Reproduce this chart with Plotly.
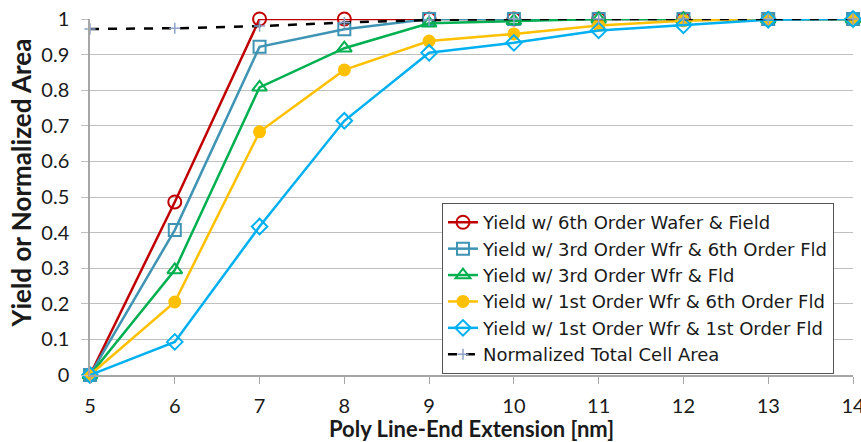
import plotly.graph_objects as go

x_nm = [5, 6, 7, 8, 9, 10, 11, 12, 13, 14]
yield_6th_wafer_field = [0, 0.486, 1.0, 1.0, 1.0, 1.0, 1.0, 1.0, 1.0, 1.0]
yield_3rd_wfr_6th_fld = [0, 0.407, 0.922, 0.971, 1.0, 1.0, 1.0, 1.0, 1.0, 1.0]
yield_3rd_wfr_fld = [0, 0.295, 0.808, 0.918, 0.988, 0.995, 1.0, 1.0, 1.0, 1.0]
yield_1st_wfr_6th_fld = [0, 0.205, 0.683, 0.857, 0.938, 0.958, 0.982, 0.995, 1.0, 1.0]
yield_1st_wfr_1st_fld = [0, 0.093, 0.417, 0.714, 0.905, 0.933, 0.968, 0.982, 0.998, 1.0]
norm_cell_area = [0.972, 0.974, 0.980, 0.990, 0.997, 1.0, 1.0, 1.0, 1.0, 1.0]

series_names = [
    "Yield w/ 6th Order Wafer & Field",
    "Yield w/ 3rd Order Wfr & 6th Order Fld",
    "Yield w/ 3rd Order Wfr & Fld",
    "Yield w/ 1st Order Wfr & 6th Order Fld",
    "Yield w/ 1st Order Wfr & 1st Order Fld",
    "Normalized Total Cell Area",
]
x_ticks = [5, 6, 7, 8, 9, 10, 11, 12, 13, 14]
y_ticks = [0, 0.1, 0.2, 0.3, 0.4, 0.5, 0.6, 0.7, 0.8, 0.9, 1]
y_tick_labels = ["0", "0.1", "0.2", "0.3", "0.4", "0.5", "0.6", "0.7", "0.8", "0.9", "1"]
x_title = "Poly Line-End Extension [nm]"
y_title = "Yield or Normalized Area"

FONT = "Lato"
LEG_FONT = "DejaVu Sans"
TXT = "#1a1a1a"
fig = go.Figure()

styles = [
    (yield_6th_wafer_field, "#C00000", "circle-open", 13),
    (yield_3rd_wfr_6th_fld, "#3F94B4", "square-open", 12),
    (yield_3rd_wfr_fld, "#00B050", "triangle-up-open", 13),
    (yield_1st_wfr_6th_fld, "#FFC000", "circle", 11),
    (yield_1st_wfr_1st_fld, "#00B0F0", "diamond-open", 12),
]
for i, (vals, col, sym, sz) in enumerate(styles):
    fig.add_trace(go.Scatter(
        x=x_nm, y=vals, name=series_names[i], mode="lines+markers",
        line=dict(color=col, width=2.5),
        marker=dict(symbol=sym, size=sz, color=col, line=dict(color=col, width=2)),
        cliponaxis=False, legendgroup=f"g{i}",
    ))

fig.add_trace(go.Scatter(
    x=x_nm, y=norm_cell_area, name=series_names[5], mode="lines+markers",
    line=dict(color="black", width=2.5, dash="dash"),
    marker=dict(symbol="cross-thin", size=8, color="#8FA3C8", line=dict(color="#8FA3C8", width=1.5)),
    cliponaxis=False, legendgroup="g5",
))

fig.add_annotation(
    text=f"<b>{y_title}</b>", textangle=-90,
    xref="paper", yref="paper", x=-0.09, y=0.539,
    xanchor="center", yanchor="middle", showarrow=False,
    font=dict(family=FONT, size=26, color=TXT),
)

fig.update_layout(
    width=861, height=442,
    margin=dict(l=90, r=8, t=19, b=67),
    paper_bgcolor="white", plot_bgcolor="white",
    font=dict(family=FONT, size=20, color=TXT),
    showlegend=True,
    legend=dict(
        x=0.4613, y=0.483, xanchor="left", yanchor="top",
        bgcolor="white", bordercolor="#555555", borderwidth=1,
        font=dict(family=LEG_FONT, size=18, color=TXT),
        traceorder="grouped", tracegroupgap=0,
        itemwidth=30,
    ),
    xaxis=dict(
        range=[5, 14], tickvals=x_ticks, ticktext=[str(v) for v in x_ticks],
        showgrid=False, zeroline=False, automargin=False,
        showline=True, linecolor="#A6A6A6", linewidth=1.5,
        ticks="outside", ticklen=7, tickcolor="#A6A6A6",
        ticklabelstandoff=5, ticklabeloverflow="allow",
        tickfont=dict(family=FONT, size=20, color=TXT),
        title=dict(text=f"<b>{x_title}</b>", font=dict(family=FONT, size=22, color=TXT), standoff=11),
    ),
    yaxis=dict(
        range=[0, 1], tickvals=y_ticks, ticktext=y_tick_labels,
        showgrid=True, gridcolor="#BFBFBF", gridwidth=1.2, zeroline=False, automargin=False,
        showline=True, linecolor="#A6A6A6", linewidth=1.5,
        ticks="outside", ticklen=7, tickcolor="#BFBFBF",
        ticklabelstandoff=8, ticklabeloverflow="allow",
        tickfont=dict(family=FONT, size=20, color=TXT),
    ),
)

fig.write_html("out.html")
